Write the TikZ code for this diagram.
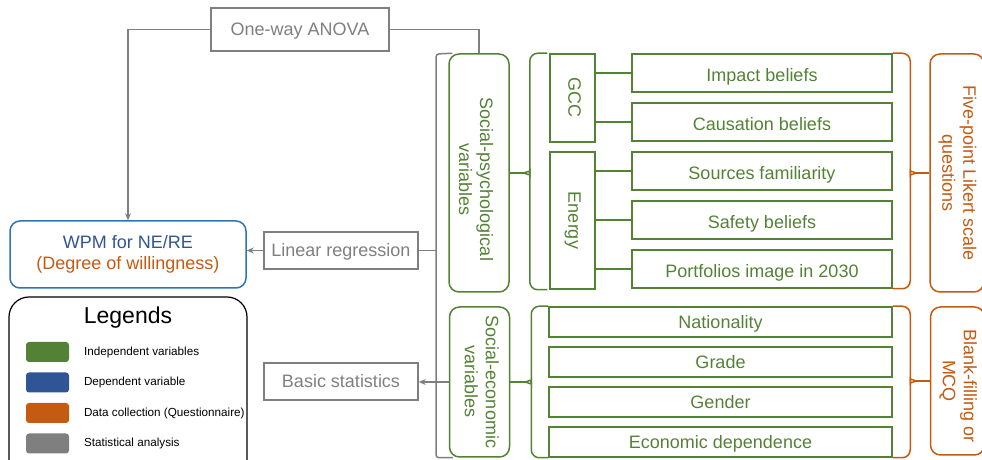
\documentclass[tikz,border=0pt]{standalone}
\usepackage{fontspec}
\setmainfont{Liberation Sans}
\usepackage{graphicx}
\usetikzlibrary{positioning,arrows.meta}
\definecolor{indep}{HTML}{548235}
\definecolor{dep}{HTML}{2F5597}
\definecolor{depline}{HTML}{2E75B6}
\definecolor{quest}{HTML}{C55A11}
\definecolor{stat}{HTML}{7F7F7F}
\newcommand{\vtext}[2][0pt]{\rotatebox{-90}{\begin{tabular}{@{\hspace{#1}}c@{}}#2\end{tabular}}}

\begin{document}
\begin{tikzpicture}[x=1pt, y=1pt, line width=1.5pt, node distance=9.5pt,
    >={Stealth[length=7pt,width=6pt]},
    lbl/.style = {font=\fontsize{18}{21}\selectfont, inner sep=0pt},
    statbox/.style = {lbl, draw=stat, text=stat, minimum width=154pt, minimum height=37pt,
        text height=12.9pt, text depth=0pt},
    var/.style = {lbl, draw=indep, text=indep, rounded corners=10pt, minimum width=60pt},
    group/.style = {lbl, draw=indep, text=indep, minimum width=45pt},
    item/.style = {lbl, draw=indep, text=indep, minimum width=260pt, minimum height=38pt,
        text height=17pt, text depth=0pt},
    sitem/.style = {item, minimum width=343pt, minimum height=30pt, text height=12.9pt},
    quest/.style = {lbl, draw=quest, text=quest, rounded corners=10pt, minimum width=54pt},
    swatch/.style = {rounded corners=3pt, minimum width=43pt, minimum height=20pt, inner sep=0pt},
    key/.style = {font=\fontsize{11.7}{14}\selectfont, inner sep=0pt}]
    \useasboundingbox (0,0) rectangle (982,460);

    \node[statbox, minimum width=178pt, minimum height=43pt] (anova) at (300,430.5) {One-way ANOVA};
    \node[statbox] (lr) at (341,209.5) {Linear regression};
    \node[statbox] (bs) at (341,78.5) {Basic statistics};

    \node[lbl, draw=depline, rounded corners=10pt, align=center, minimum width=236pt, minimum height=67pt] (wpm) at (128,205.5)
        {\textcolor{dep}{WPM for NE/RE}\\\textcolor{quest}{(Degree of willingness)}};

    \node[var, minimum height=238pt] (sp) at (479,287) {\vtext[13pt]{\rule{0pt}{25pt}Social-psychological\\variables}};
    \node[var, minimum height=150pt] (se) at (479.5,78) {\vtext{Social-economic\\variables}};

    \node[group, minimum height=88pt] (gcc) at (572.5,362) {\vtext{GCC}};
    \node[group, minimum height=137pt] (energy) at (572.5,239.5) {\vtext{Energy}};

    \node[item] (impact) at (762,387) {Impact beliefs};
    \node[item, below=of impact] (causation) {Causation beliefs};
    \node[item, below=of causation] (sources) {Sources familiarity};
    \node[item, below=of sources] (safety) {Safety beliefs};
    \node[item, below=of safety] (portfolio) {Portfolios image in 2030};

    \node[sitem] (nation) at (720.5,138) {Nationality};
    \node[sitem, below=8.5pt of nation] (grade) {Grade};
    \node[sitem, below=8.5pt of grade] (gender) {Gender};
    \node[sitem, below=8.5pt of gender] (econ) {Economic dependence};

    \node[quest, minimum height=238pt] (likert) at (957,287) {\vtext{Five-point Likert scale\\questions}};
    \node[quest, minimum height=148pt] (mcq) at (957.5,79) {\vtext{\hspace*{11pt}Blank-filling or\\MCQ}};

    \draw[stat, ->] (anova.west) -| (wpm.north);
    \draw[stat] (anova.east) -| (sp.north);
    \draw[stat, ->] (lr.west) -- (lr.west -| wpm.east);
    \coordinate (brk) at (436,406);
    \draw[stat, rounded corners=3pt] ([xshift=4pt]sp.north west) -- (brk) |- ([xshift=4pt]se.south west);
    \draw[stat] (lr.east) -- (lr.east -| brk);
    \draw[stat, ->] (se.west) -- (se.west -| bs.east);

    \draw[indep] (impact.west) -- (impact.west -| gcc.east);
    \draw[indep] (causation.west) -- (causation.west -| gcc.east);
    \draw[indep] (sources.west) -- (sources.west -| energy.east);
    \draw[indep] (safety.west) -- (safety.west -| energy.east);
    \draw[indep] (portfolio.west) -- (portfolio.west -| energy.east);

    \draw[indep] (sp.east) -- ++(13,0) coordinate (t1);
    \draw[indep, rounded corners=8pt] (t1) to[out=0,in=-90] ++(7,8) |- ([xshift=-2pt]gcc.north west);
    \draw[indep, rounded corners=8pt] (t1) to[out=0,in=90] ++(7,-8) |- ([xshift=-2pt]energy.south west);
    \draw[indep] (se.east) -- ++(14,0) coordinate (t2);
    \draw[indep, rounded corners=8pt] (t2) to[out=0,in=-90] ++(7,8) |- (nation.north west);
    \draw[indep, rounded corners=8pt] (t2) to[out=0,in=90] ++(7,-8) |- (econ.south west);

    \draw[quest] (likert.west) -- ++(-12,0) coordinate (t3);
    \draw[quest, rounded corners=8pt] (t3) to[out=180,in=-90] ++(-7,8) |- (impact.north east);
    \draw[quest, rounded corners=8pt] (t3) to[out=180,in=90] ++(-7,-8) |- (portfolio.south east);
    \draw[quest] (mcq.west) -- ++(-12.5,0) coordinate (t4);
    \draw[quest, rounded corners=8pt] (t4) to[out=180,in=-90] ++(-7,8) |- (nation.north east);
    \draw[quest, rounded corners=8pt] (t4) to[out=180,in=90] ++(-7,-8) |- (econ.south east);

    \node[draw, line width=1.2pt, rounded corners=20pt, minimum width=238pt, minimum height=190pt] (legend) at (128,68) {};
    \node[font=\fontsize{23}{27}\selectfont, inner sep=0pt] (ltitle) at (128,142) {Legends};
    \node[swatch, fill=indep] (s1) at (47.5,108) {};
    \node[swatch, fill=dep, below=9pt of s1] (s2) {};
    \node[swatch, fill=quest, below=9pt of s2] (s3) {};
    \node[swatch, fill=stat, below=9pt of s3] (s4) {};
    \node[key, right=13.5pt of s1] (k1) {Independent variables};
    \node[key, right=13.5pt of s2] (k2) {Dependent variable};
    \node[key, right=13.5pt of s3] (k3) {Data collection (Questionnaire)};
    \node[key, right=13.5pt of s4] (k4) {Statistical analysis};
\end{tikzpicture}
\end{document}
